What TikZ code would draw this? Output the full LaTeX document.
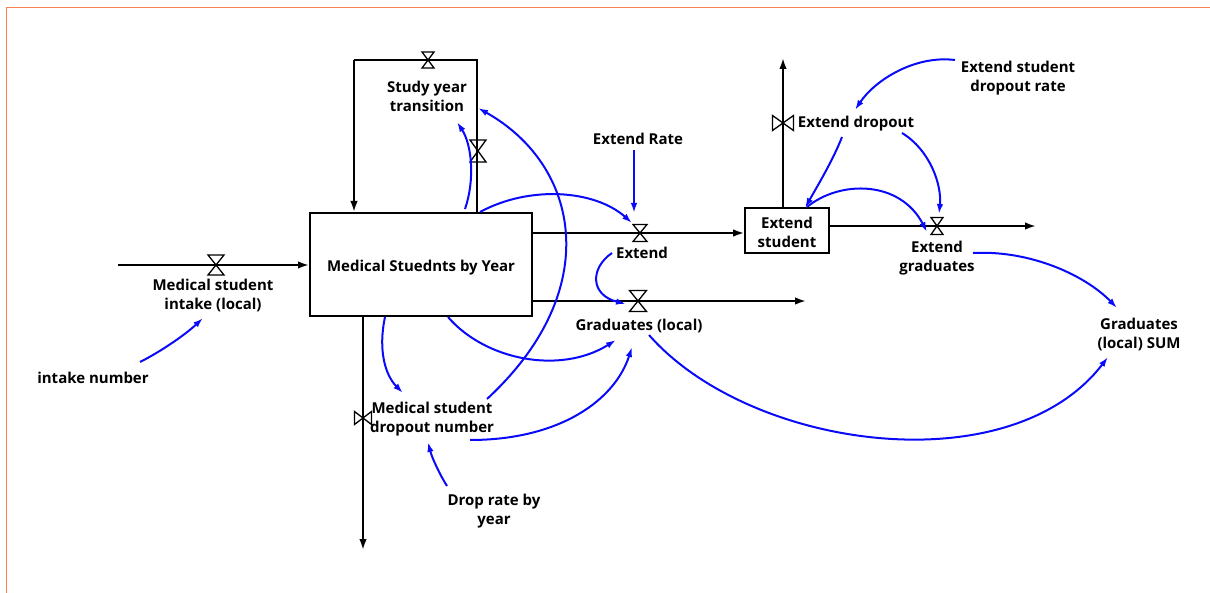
\documentclass[tikz,border=0pt]{standalone}
\usepackage{fontspec}
\setmainfont{Open Sans}
\usetikzlibrary{arrows.meta}
\definecolor{frameorange}{RGB}{250,128,84}
\definecolor{linkblue}{RGB}{10,10,250}
\tikzset{
  lbl/.style={font=\fontsize{15}{19}\selectfont\bfseries, align=center, inner sep=1pt, yshift=-1.5pt},
  stockbox/.style={draw, line width=2pt, inner sep=0pt},
  flow/.style={line width=2pt, -{Latex[length=11pt,width=7.5pt]}},
  pipe/.style={line width=2pt},
  link/.style={draw=linkblue, line width=2pt, -{Latex[length=10pt,width=6.5pt]}},
  pics/hourglass/.style 2 args={code={
    \draw[line width=1.3pt] (-#1,-#2) -- (#1,-#2) -- (-#1,#2) -- (#1,#2) -- cycle;}},
  pics/bowtie/.style 2 args={code={
    \draw[line width=1.3pt] (-#1,-#2) -- (-#1,#2) -- (#1,-#2) -- (#1,#2) -- cycle;}}
}
\begin{document}
\begin{tikzpicture}[x=1pt,y=-1pt]
\useasboundingbox (0,0) rectangle (1210,593);
% page frame
\draw[frameorange, line width=1.3pt] (6.5,593) -- (6.5,7.5) -- (1210,7.5);

% stocks
\node[stockbox, minimum width=222pt, minimum height=103pt] (stock) at (421,264.5) {};
\node[lbl] (stockName) at (421,266) {Medical Stuednts by Year};
\node[stockbox, line width=1.6pt, minimum width=84pt, minimum height=45pt] (exstock) at (787,230.5) {};
\node[lbl] (exstockName) at (787,231) {Extend\\student};

% valve positions
\coordinate (vIntake) at (216,265);
\coordinate (vStudyTop) at (428,60);
\coordinate (vStudySide) at (478,151);
\coordinate (vExtend) at (640,233);
\coordinate (vGrad) at (638,301);
\coordinate (vExGrad) at (937,226);
\coordinate (vExDrop) at (783,123);
\coordinate (vDrop) at (363,418);

% flow end points
\coordinate (inSrc) at (118,265);
\coordinate (loopA) at (477,60);
\coordinate (loopB) at (354,60);
\coordinate (gradSink) at (806,301);
\coordinate (dropSink) at (363,550);
\coordinate (exDropSink) at (783,58);
\coordinate (exGradSink) at (1036,226);

% flows
\draw[flow] (inSrc) -- (stock.west |- inSrc);
\draw[pipe] (stock.north -| loopA) -- (loopA) -- (loopB);
\draw[flow] (loopB) -- (stock.north -| loopB);
\draw[flow] (stock.east |- vExtend) -- (exstock.west |- vExtend);
\draw[flow] (stock.east |- vGrad) -- (gradSink);
\draw[flow] (stock.south -| vDrop) -- (dropSink);
\draw[flow] (exstock.north -| vExDrop) -- (exDropSink);
\draw[flow] (exstock.east |- vExGrad) -- (exGradSink);

% valves
\pic at (vIntake) {hourglass={8}{10}};
\pic at (vStudyTop) {hourglass={6}{8}};
\pic at (vStudySide) {hourglass={8}{11}};
\pic at (vExtend) {hourglass={7}{8.5}};
\pic at (vGrad) {hourglass={8.5}{10.5}};
\pic at (vExGrad) {hourglass={6}{8.5}};
\pic at (vExDrop) {bowtie={10.5}{7.5}};
\pic at (vDrop) {bowtie={8.5}{6.5}};

% labels
\node[lbl] (intake) at (213,293.5) {Medical student\\intake (local)};
\node[lbl] (intakeNum) at (93,376) {intake number};
\node[lbl] (study) at (427,95) {Study year\\transition};
\node[lbl] (extRate) at (638,137) {Extend Rate};
\node[lbl] (extend) at (642,251) {Extend};
\node[lbl] (grad) at (639,324) {Graduates (local)};
\node[lbl] (exDrop) at (856,122) {Extend dropout};
\node[lbl] (exDropRate) at (1018,77) {Extend student\\dropout rate};
\node[lbl] (exGrad) at (937,257) {Extend\\graduates};
\node[lbl] (gradSum) at (1139,333) {Graduates\\(local) SUM};
\node[lbl] (dropNum) at (432,418) {Medical student\\dropout number};
\node[lbl] (dropRate) at (494,510) {Drop rate by\\year};

% link end points
\coordinate (intakeNumOut) at (140,362);
\coordinate (intakeIn) at (203,318);
\coordinate (stockTopA) at (465,209);
\coordinate (studyInA) at (457,122);
\coordinate (studyInB) at (478,108);
\coordinate (dropNumOutA) at (487,399);
\coordinate (stockTopB) at (480,212);
\coordinate (extendIn) at (632,223);
\coordinate (extRateOut) at (634,150);
\coordinate (extRateIn) at (634,213);
\coordinate (extendOut) at (612,253);
\coordinate (gradInA) at (626,304);
\coordinate (stockBotA) at (448,317);
\coordinate (gradInB) at (616,340);
\coordinate (stockBotB) at (385,317);
\coordinate (dropNumIn) at (403,393);
\coordinate (dropNumOutB) at (470,440);
\coordinate (gradInC) at (632,347);
\coordinate (dropRateOut) at (447,486);
\coordinate (dropNumInB) at (428,442);
\coordinate (gradOut) at (649,335);
\coordinate (sumInA) at (1108,357);
\coordinate (exGradOut) at (973,253);
\coordinate (sumInB) at (1117,308);
\coordinate (exDropRateOut) at (955,60);
\coordinate (exDropIn) at (855,110);
\coordinate (exDropOutA) at (842,137);
\coordinate (exstockInA) at (805,208);
\coordinate (exDropOutB) at (902,133);
\coordinate (exGradIn) at (939,214);
\coordinate (exstockOut) at (807,207);
\coordinate (exGradInB) at (927,232);

% information links
\draw[link] (intakeNumOut) .. controls (160,352) and (185,335) .. (intakeIn);
\draw[link] (stockTopA) .. controls (475,180) and (472,145) .. (studyInA);
\draw[link] (dropNumOutA) .. controls (605,290) and (580,165) .. (studyInB);
\draw[link] (stockTopB) .. controls (530,185) and (595,190) .. (extendIn);
\draw[link] (extRateOut) -- (extRateIn);
\draw[link] (extendOut) .. controls (590,268) and (590,295) .. (gradInA);
\draw[link] (stockBotA) .. controls (485,360) and (560,375) .. (gradInB);
\draw[link] (stockBotB) .. controls (378,350) and (385,375) .. (dropNumIn);
\draw[link] (dropNumOutB) .. controls (560,440) and (615,400) .. (gradInC);
\draw[link] (dropRateOut) .. controls (440,475) and (432,458) .. (dropNumInB);
\draw[link] (gradOut) .. controls (750,450) and (1010,485) .. (sumInA);
\draw[link] (exGradOut) .. controls (1030,250) and (1085,275) .. (sumInB);
\draw[link] (exDropRateOut) .. controls (915,55) and (875,80) .. (exDropIn);
\draw[link] (exDropOutA) .. controls (833,160) and (818,185) .. (exstockInA);
\draw[link] (exDropOutB) .. controls (930,150) and (942,185) .. (exGradIn);
\draw[link] (exstockOut) .. controls (840,180) and (900,180) .. (exGradInB);
\end{tikzpicture}
\end{document}
